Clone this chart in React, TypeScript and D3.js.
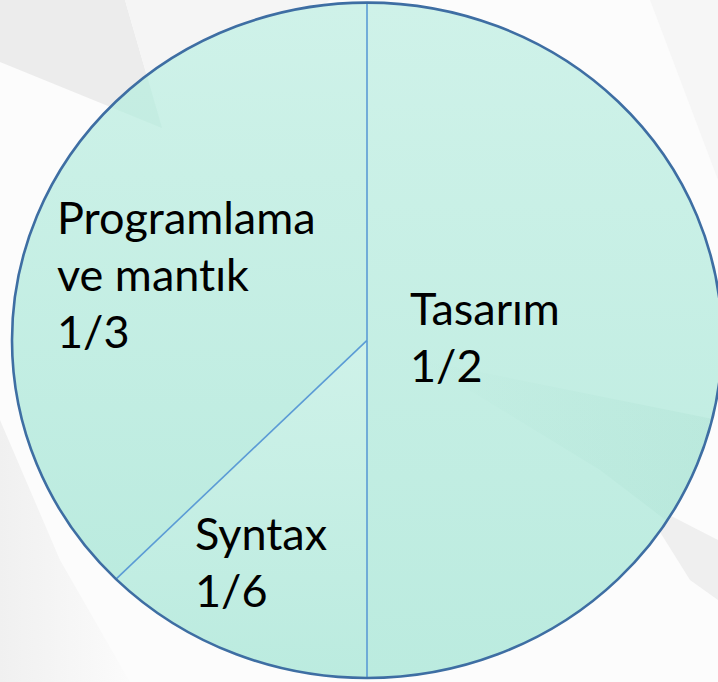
import React from "react";
import * as d3 from "d3";

// Slice order clockwise from 12 o'clock
const categories = ["Tasarım", "Syntax", "Programlama ve mantık"];
// Angular shares as drawn in the picture
const sliceShares = [0.5, 0.125, 0.375];
// Label lines as printed on the chart
const labelLines = [
  ["Tasarım", "1/2"],
  ["Syntax", "1/6"],
  ["Programlama", "ve mantık", "1/3"],
];

const W = 718;
const H = 682;

export default function App() {
  const cx = 367;
  const cy = 340.3;
  const rx = 355;
  const ry = 337.7;

  const pie = d3
    .pie<number>()
    .sort(null)
    .value((d) => d)
    .startAngle(0)
    .endAngle(2 * Math.PI);
  const arcs = pie(sliceShares);
  const arcGen = d3.arc<d3.PieArcDatum<number>>().innerRadius(0).outerRadius(ry);

  const boundaries = Array.from(new Set(arcs.map((a) => a.startAngle % (2 * Math.PI))));
  const pt = (ang: number) => [cx + rx * Math.sin(ang), cy - ry * Math.cos(ang)];

  const labelPos = [
    { x: 410, y: 325 },
    { x: 195, y: 550 },
    { x: 57, y: 234 },
  ];
  const lineH = 57;
  const font = "Lato, 'Open Sans', sans-serif";

  return (
    <svg
      width={W}
      height={H}
      style={{ position: "absolute", left: 0, top: 0, display: "block" }}
    >
      <defs>
        <linearGradient id="fillG" x1="0" y1="0" x2="0" y2="1">
          <stop offset="0" stopColor="#cff2e9" />
          <stop offset="1" stopColor="#bbebdf" />
        </linearGradient>
        <linearGradient id="bgL" x1="0" y1="0" x2="1" y2="0">
          <stop offset="0" stopColor="#f0f0f0" />
          <stop offset="1" stopColor="#fbfbfb" />
        </linearGradient>
        <linearGradient id="bandG" x1="0" y1="0" x2="1" y2="0">
          <stop offset="0" stopColor="#9fd8c8" stopOpacity={0} />
          <stop offset="1" stopColor="#9fd8c8" stopOpacity={0.22} />
        </linearGradient>
        <clipPath id="ellClip">
          <ellipse cx={cx} cy={cy} rx={rx} ry={ry} />
        </clipPath>
      </defs>
      {/* background */}
      <rect x={0} y={0} width={W} height={H} fill="#fcfcfc" />
      <polygon points="0,0 125,0 162,128 0,62" fill="#ececec" />
      <polygon points="125,0 330,0 162,128" fill="#f5f5f5" />
      <polygon points="0,420 60,560 130,682 0,682" fill="url(#bgL)" />
      <polygon points="640,500 718,540 718,600 690,580" fill="#efefef" />
      <polygon points="650,0 718,0 718,180" fill="#f6f6f6" />

      {/* slices */}
      <g transform={`translate(${cx},${cy}) scale(${rx / ry},1)`}>
        {arcs.map((a, i) => (
          <path key={categories[i]} d={arcGen(a) || ""} fill="url(#fillG)" />
        ))}
      </g>
      {/* faint background shapes seen through the pie */}
      <g clipPath="url(#ellClip)">
        <polygon points="0,0 125,0 162,128 0,62" fill="#9fd8c8" opacity={0.16} />
        <polygon points="420,360 718,420 718,560 600,470" fill="url(#bandG)" />
      </g>

      {/* slice boundaries */}
      {boundaries.map((ang, i) => {
        const [x, y] = pt(ang);
        return (
          <line
            key={i}
            x1={cx}
            y1={cy}
            x2={x}
            y2={y}
            stroke="#5b9bd5"
            strokeWidth={1.6}
          />
        );
      })}
      {/* outline */}
      <ellipse cx={cx} cy={cy} rx={rx} ry={ry} fill="none" stroke="#3e6ea3" strokeWidth={2.6} />

      {/* labels */}
      {labelLines.map((lines, i) => (
        <text
          key={categories[i]}
          x={labelPos[i].x}
          y={labelPos[i].y}
          fontFamily={font}
          fontSize={45}
          fill="#000"
          style={{ fontVariantLigatures: "none" }}
        >
          {lines.map((l, j) => (
            <tspan key={j} x={labelPos[i].x} y={labelPos[i].y + j * lineH}>
              {l}
            </tspan>
          ))}
        </text>
      ))}
    </svg>
  );
}
